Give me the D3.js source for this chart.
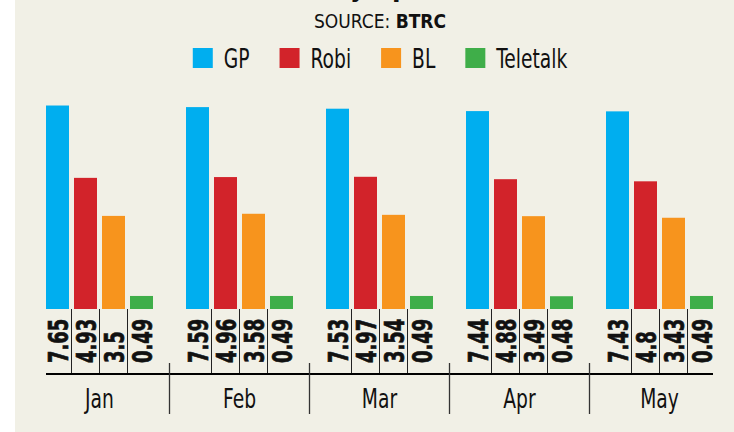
<!DOCTYPE html>
<html>
<head>
<meta charset="utf-8">
<script src="https://cdn.jsdelivr.net/npm/d3@7"></script>
<style>
  html, body { margin: 0; padding: 0; background: #ffffff; }
  svg { display: block; }
  text { font-family: "DejaVu Sans Condensed", "Liberation Sans Narrow", sans-serif; fill: #111; }
</style>
</head>
<body>
<svg id="chart" width="734" height="432"></svg>
<script>
// Données (abonnés, en crore)
const months = ['Jan', 'Feb', 'Mar', 'Apr', 'May'];
const operators = ['GP', 'Robi', 'BL', 'Teletalk'];
const gpValues = [7.65, 7.59, 7.53, 7.44, 7.43];
const robiValues = [4.93, 4.96, 4.97, 4.88, 4.8];
const blValues = [3.5, 3.58, 3.54, 3.49, 3.43];
const teletalkValues = [0.49, 0.49, 0.49, 0.48, 0.49];
const colors = ['#00aeef', '#d2232a', '#f7941d', '#3fae49'];

const seriesValues = [gpValues, robiValues, blValues, teletalkValues];

const narrow = 0.77; // compression horizontale du texte (police condensée)

const svg = d3.select('#chart');

// Fond beige, bande blanche à gauche
svg.append('rect')
   .attr('x', 15).attr('y', 0)
   .attr('width', 719).attr('height', 432)
   .attr('fill', '#f1f0e6');

// Titre coupé en haut (seuls les jambages restent visibles)
svg.append('text')
   .attr('transform', `translate(602,-5) scale(${narrow},1)`)
   .attr('text-anchor', 'end')
   .style('font-size', '36px')
   .style('font-weight', 'bold')
   .text('Mobile subscribers by operator (crore)');

// Source
const source = svg.append('text')
   .attr('x', 380)
   .attr('y', 28)
   .attr('text-anchor', 'middle')
   .style('font-size', '19px');
source.append('tspan').text('SOURCE: ');
source.append('tspan').style('font-weight', 'bold').text('BTRC');

// Légende
const legend = svg.append('g');
let lx = 0;
operators.forEach((op, i) => {
    legend.append('rect')
          .attr('x', lx).attr('y', 48)
          .attr('width', 20).attr('height', 20)
          .attr('fill', colors[i]);
    const t = legend.append('text')
          .attr('transform', `translate(${lx + 31},68) scale(${narrow},1)`)
          .style('font-size', '27px')
          .text(op);
    lx += 31 + t.node().getComputedTextLength() * narrow + 30;
});
const legendWidth = lx - 30;
legend.attr('transform', `translate(${380 - legendWidth / 2},0)`);

// Échelles
const x0 = d3.scaleBand()
             .domain(months)
             .range([46, 746])
             .paddingInner(0)
             .paddingOuter(0);

const x1 = d3.scaleBand()
             .domain(operators)
             .range([0, 107])
             .paddingInner(5 / 28)
             .paddingOuter(0);

const y = d3.scaleLinear()
            .domain([0, 8])
            .range([309, 96.2]);

const flat = [];
months.forEach((m, mi) => {
    operators.forEach((op, oi) => {
        flat.push({ month: m, op: op, oi: oi, value: seriesValues[oi][mi] });
    });
});

// Barres
svg.append('g')
   .selectAll('rect')
   .data(flat)
   .join('rect')
   .attr('x', d => x0(d.month) + x1(d.op))
   .attr('y', d => y(d.value))
   .attr('width', x1.bandwidth())
   .attr('height', d => y(0) - y(d.value))
   .attr('fill', d => colors[d.oi]);

// Séparateurs entre les valeurs
svg.append('g')
   .selectAll('line')
   .data(flat.filter(d => d.oi > 0))
   .join('line')
   .attr('x1', d => x0(d.month) + x1(d.op) - 2.5)
   .attr('x2', d => x0(d.month) + x1(d.op) - 2.5)
   .attr('y1', y(0))
   .attr('y2', 374)
   .attr('stroke', '#222')
   .attr('stroke-width', 1);

// Valeurs verticales
svg.append('g')
   .selectAll('text')
   .data(flat)
   .join('text')
   .attr('transform', d => `translate(${x0(d.month) + x1(d.op) + x1.bandwidth() / 2 + 10},363) rotate(-90) scale(0.74,1)`)
   .style('font-size', '27px')
   .style('font-weight', 'bold')
   .style('stroke', '#111')
   .style('stroke-width', 0.7)
   .text(d => d.value);

// Axe horizontal
svg.append('line')
   .attr('x1', x0(months[0]))
   .attr('x2', x0(months[months.length - 1]) + 107)
   .attr('y1', 374)
   .attr('y2', 374)
   .attr('stroke', '#000')
   .attr('stroke-width', 2);

// Séparateurs de mois
svg.append('g')
   .selectAll('line')
   .data(months.slice(1))
   .join('line')
   .attr('x1', d => x0(d) - 16.5)
   .attr('x2', d => x0(d) - 16.5)
   .attr('y1', 363)
   .attr('y2', 414)
   .attr('stroke', '#333')
   .attr('stroke-width', 1.3);

// Libellés des mois
svg.append('g')
   .selectAll('text')
   .data(months)
   .join('text')
   .attr('transform', d => `translate(${x0(d) + 53.5},408) scale(${narrow},1)`)
   .attr('text-anchor', 'middle')
   .style('font-size', '27px')
   .text(d => d);
</script>
</body>
</html>
